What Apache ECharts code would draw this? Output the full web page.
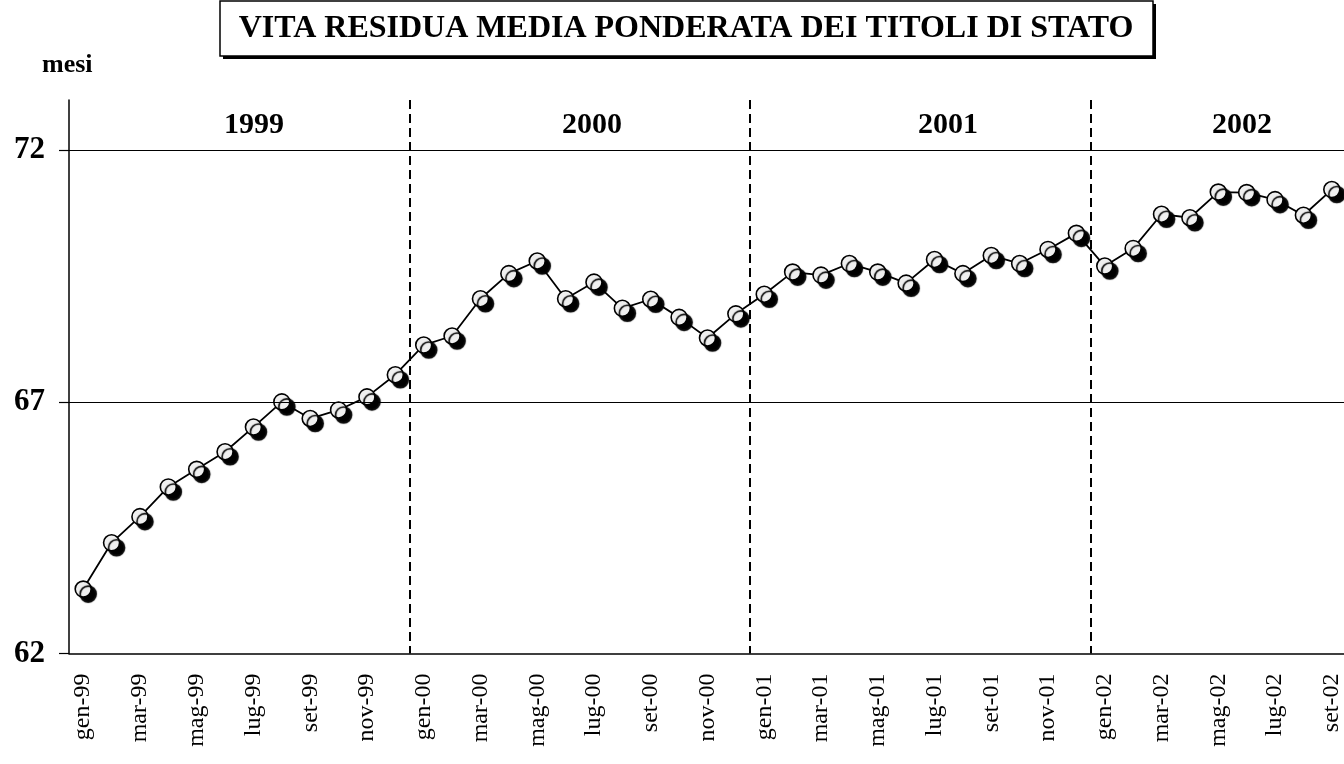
<!DOCTYPE html>
<html>
<head>
<meta charset="utf-8">
<script src="https://cdn.jsdelivr.net/npm/echarts@6/dist/echarts.min.js"></script>
<style>
  html, body { margin: 0; padding: 0; background: #fff; }
  #main { width: 1344px; height: 764px; }
</style>
</head>
<body>
<div id="main"></div>
<script>
// mesi (gen-99 ... set-02)
var mesi = [
    'gen-99', 'feb-99', 'mar-99', 'apr-99', 'mag-99', 'giu-99', 'lug-99', 'ago-99', 'set-99', 'ott-99', 'nov-99', 'dic-99',
    'gen-00', 'feb-00', 'mar-00', 'apr-00', 'mag-00', 'giu-00', 'lug-00', 'ago-00', 'set-00', 'ott-00', 'nov-00', 'dic-00',
    'gen-01', 'feb-01', 'mar-01', 'apr-01', 'mag-01', 'giu-01', 'lug-01', 'ago-01', 'set-01', 'ott-01', 'nov-01', 'dic-01',
    'gen-02', 'feb-02', 'mar-02', 'apr-02', 'mag-02', 'giu-02', 'lug-02', 'ago-02', 'set-02'
];

// vita residua media ponderata (mesi)
var vitaResidua = [
    63.28, 64.20, 64.72, 65.31, 65.66, 66.01, 66.50, 67.00, 66.67, 66.84, 67.10, 67.54,
    68.13, 68.31, 69.05, 69.55, 69.80, 69.05, 69.38, 68.86, 69.04, 68.68, 68.27, 68.75,
    69.14, 69.58, 69.52, 69.75, 69.58, 69.36, 69.83, 69.55, 69.91, 69.75, 70.03, 70.35,
    69.70, 70.05, 70.73, 70.66, 71.17, 71.16, 71.02, 70.71, 71.22
];

var anni = ['1999', '2000', '2001', '2002'];
var yTicks = [62, 67, 72];
var griglia = [67, 72];

var serif = '"Liberation Serif", "Times New Roman", serif';

var myChart = echarts.init(document.getElementById('main'));

var anniPos = [254, 592, 948, 1242];
var anniText = anni.map(function (a, i) {
    return {
        type: 'text',
        x: anniPos[i],
        y: 125,
        style: {
            text: a,
            font: 'bold 30px ' + serif,
            fill: '#000',
            align: 'center',
            verticalAlign: 'middle'
        }
    };
});

var option = {
    backgroundColor: '#fff',
    animation: false,
    grid: {
        left: 69,
        top: 100,
        width: 1277,   // il bordo destro cade appena fuori dalla pagina
        height: 553.5,
        outerBoundsMode: 'none'
    },
    xAxis: {
        type: 'category',
        data: mesi,
        boundaryGap: true,
        axisLine: {lineStyle: {color: '#000', width: 1.5}},
        axisTick: {
            interval: 1,
            length: 8,
            lineStyle: {color: '#000', width: 1.2}
        },
        axisLabel: {
            interval: 1,
            rotate: 90,
            margin: 20,
            color: '#000',
            fontFamily: serif,
            fontSize: 24
        },
        splitLine: {
            show: true,
            interval: function (index) {
                return index > 0 && index % 12 === 0;   // separatore tra gli anni
            },
            lineStyle: {color: '#000', width: 2, type: [9, 5]}
        }
    },
    yAxis: {
        type: 'value',
        min: 62,
        max: 73,
        interval: 5,
        axisLine: {show: true, lineStyle: {color: '#000', width: 1.5}},
        axisTick: {
            show: true,
            length: 10,
            customValues: yTicks,
            lineStyle: {color: '#000', width: 1.2}
        },
        axisLabel: {
            customValues: yTicks,
            margin: 24,
            color: '#000',
            fontFamily: serif,
            fontWeight: 'bold',
            fontSize: 31
        },
        splitLine: {show: false}
    },
    series: [
        {
            name: 'vita residua',
            type: 'line',
            data: vitaResidua,
            symbol: 'circle',
            symbolSize: 16,
            lineStyle: {color: '#000', width: 1.8},
            itemStyle: {
                color: '#efefef',
                borderColor: '#000',
                borderWidth: 1.6,
                shadowColor: '#000',
                shadowBlur: 1,
                shadowOffsetX: 5,
                shadowOffsetY: 5
            },
            emphasis: {disabled: true},
            markLine: {
                silent: true,
                symbol: 'none',
                label: {show: false},
                lineStyle: {color: '#000', width: 1.2, type: 'solid'},
                data: griglia.map(function (v) { return {yAxis: v}; })
            },
            z: 3
        }
    ],
    graphic: [
        // riquadro del titolo con ombra
        {
            type: 'rect',
            shape: {x: 223, y: 4, width: 933, height: 55},
            style: {fill: '#000'}
        },
        {
            type: 'rect',
            shape: {x: 220, y: 1, width: 933, height: 55},
            style: {fill: '#fff', stroke: '#000', lineWidth: 1.5}
        },
        {
            type: 'text',
            x: 686,
            y: 29,
            style: {
                text: 'VITA RESIDUA MEDIA PONDERATA DEI TITOLI DI STATO',
                font: 'bold 32px ' + serif,
                fill: '#000',
                align: 'center',
                verticalAlign: 'middle'
            }
        },
        {
            type: 'text',
            x: 42,
            y: 65,
            style: {
                text: 'mesi',
                font: 'bold 26px ' + serif,
                fill: '#000',
                verticalAlign: 'middle'
            }
        }
    ].concat(anniText)
};

myChart.setOption(option);
</script>
</body>
</html>
